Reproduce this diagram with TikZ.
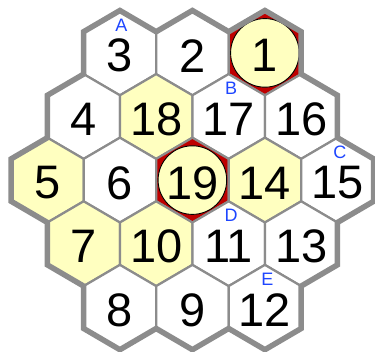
\documentclass[tikz,border=0pt]{standalone}
\usepackage{fontspec}
\newfontfamily\numfont{Liberation Sans}
\newfontfamily\tagfont{Liberation Sans}
\definecolor{hexgray}{RGB}{140,140,140}
\definecolor{paleyellow}{RGB}{255,255,192}
\definecolor{deepred}{RGB}{190,0,0}
\definecolor{tagblue}{RGB}{30,70,255}
\tikzset{
  cell/.style={draw=hexgray, line width=2.2pt},
  rim/.style={draw=hexgray, line width=5.5pt},
  num/.style={font=\numfont\fontsize{47}{47}\selectfont, inner sep=0pt},
  tag/.style={font=\tagfont\fontsize{18}{18}\selectfont, text=tagblue, inner sep=0pt},
  disc/.style={draw=black, line width=0.9pt, fill=paleyellow}
}
% #1 x, #2 y, #3 fill, #4 label, #5 name
\newcommand\hexcell[5]{%
  \filldraw[cell, fill=#3, shift={(#1,#2)}] (-36.25,21.2) -- (0,42.4) -- (36.25,21.2) -- (36.25,-21.2) -- (0,-42.4) -- (-36.25,-21.2) -- cycle;
  \node[num] (#5) at (#1,#2-2.8) {#4};
}
\newcommand\hexdisc[5]{%
  \filldraw[cell, fill=deepred, shift={(#1,#2)}] (-36.25,21.2) -- (0,42.4) -- (36.25,21.2) -- (36.25,-21.2) -- (0,-42.4) -- (-36.25,-21.2) -- cycle;
  \filldraw[disc] (#1,#2) circle[radius=34.3];
  \node[num] (#5) at (#1,#2-2.8) {#4};
}
\begin{document}
\begin{tikzpicture}[x=1pt,y=1pt]
\useasboundingbox (0,0) rectangle (375,352);
\fill[white] (0,0) rectangle (375,352);
% row 0
\hexcell{119.9}{299.1}{white}{3}{h3}
\hexcell{192.4}{299.1}{white}{2}{h2}
\hexdisc{264.9}{299.1}{white}{1}{h1}
% row 1
\hexcell{83.65}{235.5}{white}{4}{h4}
\hexcell{156.15}{235.5}{paleyellow}{18}{h18}
\hexcell{228.65}{235.5}{white}{17}{h17}
\hexcell{301.15}{235.5}{white}{16}{h16}
% row 2
\hexcell{47.4}{171.9}{paleyellow}{5}{h5}
\hexcell{119.9}{171.9}{white}{6}{h6}
\hexdisc{192.4}{171.9}{white}{19}{h19}
\hexcell{264.9}{171.9}{paleyellow}{14}{h14}
\hexcell{337.4}{171.9}{white}{15}{h15}
% row 3
\hexcell{83.65}{108.3}{paleyellow}{7}{h7}
\hexcell{156.15}{108.3}{paleyellow}{10}{h10}
\hexcell{228.65}{108.3}{white}{11}{h11}
\hexcell{301.15}{108.3}{white}{13}{h13}
% row 4
\hexcell{119.9}{44.7}{white}{8}{h8}
\hexcell{192.4}{44.7}{white}{9}{h9}
\hexcell{264.9}{44.7}{white}{12}{h12}
% letters
\node[tag] (tA) at (121.4,326.8) {A};
\node[tag] (tB) at (231.2,263.4) {B};
\node[tag] (tC) at (339.9,200.0) {C};
\node[tag] (tD) at (231.2,136.4) {D};
\node[tag] (tE) at (267.4,72.8) {E};
% outer rim
\draw[rim] (83.65,320.3) -- (119.9,341.5) -- (156.15,320.3) -- (192.4,341.5) -- (228.65,320.3) -- (264.9,341.5) -- (301.15,320.3) -- (301.15,277.9) -- (337.4,256.7) -- (337.4,214.3) -- (373.65,193.1) -- (373.65,150.7) -- (337.4,129.5) -- (337.4,87.1) -- (301.15,65.9) -- (301.15,23.5) -- (264.9,2.3) -- (228.65,23.5) -- (192.4,2.3) -- (156.15,23.5) -- (119.9,2.3) -- (83.65,23.5) -- (83.65,65.9) -- (47.4,87.1) -- (47.4,129.5) -- (11.15,150.7) -- (11.15,193.1) -- (47.4,214.3) -- (47.4,256.7) -- (83.65,277.9) -- cycle;
\end{tikzpicture}
\end{document}
